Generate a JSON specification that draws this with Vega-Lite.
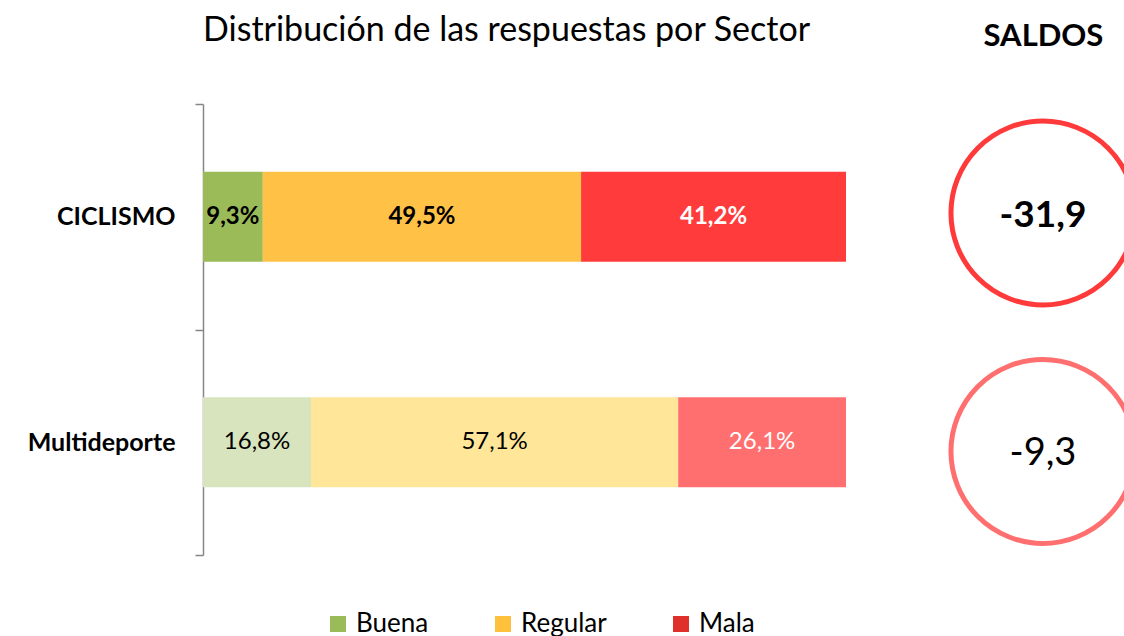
{
  "$schema": "https://vega.github.io/schema/vega-lite/v6.json",
  "autosize": {"type": "none"},
  "padding": {"left": 203, "top": 104, "right": 0, "bottom": 81},
  "width": 921,
  "height": 451,
  "background": "white",
  "title": {
    "text": "Distribución de las respuestas por Sector",
    "anchor": "start",
    "frame": "group",
    "baseline": "alphabetic",
    "offset": 0,
    "dy": 55,
    "fontSize": 34,
    "fontWeight": "normal",
    "color": "#000000"
  },
  "datasets": {
    "respuestas": [
      {"Sector": "CICLISMO", "Respuesta": "Buena", "orden": 1, "pct": 0.093},
      {"Sector": "CICLISMO", "Respuesta": "Regular", "orden": 2, "pct": 0.495},
      {"Sector": "CICLISMO", "Respuesta": "Mala", "orden": 3, "pct": 0.412},
      {"Sector": "Multideporte", "Respuesta": "Buena", "orden": 1, "pct": 0.168},
      {"Sector": "Multideporte", "Respuesta": "Regular", "orden": 2, "pct": 0.571},
      {"Sector": "Multideporte", "Respuesta": "Mala", "orden": 3, "pct": 0.261}
    ],
    "saldos": [
      {"Sector": "CICLISMO", "Saldo": -31.9},
      {"Sector": "Multideporte", "Saldo": -9.3}
    ]
  },
  "layer": [
    {
      "data": {"name": "respuestas"},
      "encoding": {
        "y": {
          "field": "Sector",
          "type": "nominal",
          "sort": ["CICLISMO", "Multideporte"],
          "scale": {"type": "band", "paddingInner": 0, "paddingOuter": 0},
          "axis": {
            "title": null,
            "tickBand": "extent",
            "domainColor": "#868686",
            "domainWidth": 1.5,
            "tickColor": "#868686",
            "tickWidth": 1.5,
            "tickSize": 8,
            "labelFontSize": 25,
            "labelFontWeight": "bold",
            "labelColor": "#000000",
            "labelPadding": 20
          }
        },
        "x": {
          "field": "pct",
          "type": "quantitative",
          "stack": "zero",
          "scale": {"domain": [0, 1], "range": [0, 643], "nice": false},
          "axis": null
        },
        "order": {"field": "orden", "type": "quantitative", "sort": "ascending"}
      },
      "layer": [
        {
          "transform": [{"filter": "datum.Sector === 'CICLISMO'"}],
          "mark": {"type": "bar", "height": {"band": 0.4}},
          "encoding": {
            "color": {
              "field": "Respuesta",
              "type": "nominal",
              "sort": ["Buena", "Regular", "Mala"],
              "scale": {"domain": ["Buena", "Regular", "Mala"], "range": ["#9BBB59", "#FFC247", "#FF3B3B"]},
              "legend": null
            }
          }
        },
        {
          "transform": [{"filter": "datum.Sector === 'Multideporte'"}],
          "mark": {"type": "bar", "height": {"band": 0.4}},
          "encoding": {
            "color": {
              "field": "Respuesta",
              "type": "nominal",
              "sort": ["Buena", "Regular", "Mala"],
              "scale": {"domain": ["Buena", "Regular", "Mala"], "range": ["#D7E4BD", "#FFE699", "#FF6F6F"]},
              "legend": null
            }
          }
        },
        {
          "transform": [{"filter": "false"}],
          "mark": {"type": "bar", "height": {"band": 0.4}},
          "encoding": {
            "color": {
              "field": "Respuesta",
              "type": "nominal",
              "sort": ["Buena", "Regular", "Mala"],
              "scale": {"domain": ["Buena", "Regular", "Mala"], "range": ["#9BBB59", "#FFC13B", "#E0302A"]},
              "legend": {
                "title": null,
                "orient": "none",
                "legendX": 122,
                "legendY": 507,
                "direction": "horizontal",
                "symbolType": "square",
                "symbolSize": 256,
                "symbolStrokeWidth": 0,
                "labelFontSize": 26,
                "labelColor": "#000000",
                "labelOffset": 5,
                "columnPadding": 61,
                "padding": 0
              }
            }
          }
        },
        {
          "transform": [{"filter": "datum.Sector === 'CICLISMO'"}],
          "mark": {"type": "text", "fontSize": 24, "fontWeight": "bold", "align": "center", "baseline": "middle"},
          "encoding": {
            "x": {"field": "pct", "type": "quantitative", "stack": "zero", "bandPosition": 0.5},
            "text": {"field": "pct", "type": "quantitative", "format": ".1%"},
            "color": {
              "field": "Respuesta",
              "type": "nominal",
              "sort": ["Buena", "Regular", "Mala"],
              "scale": {"domain": ["Buena", "Regular", "Mala"], "range": ["#000000", "#000000", "#FFFFFF"]},
              "legend": null
            }
          }
        },
        {
          "transform": [{"filter": "datum.Sector === 'Multideporte'"}],
          "mark": {"type": "text", "fontSize": 24, "fontWeight": "normal", "align": "center", "baseline": "middle"},
          "encoding": {
            "x": {"field": "pct", "type": "quantitative", "stack": "zero", "bandPosition": 0.5},
            "text": {"field": "pct", "type": "quantitative", "format": ".1%"},
            "color": {
              "field": "Respuesta",
              "type": "nominal",
              "sort": ["Buena", "Regular", "Mala"],
              "scale": {"domain": ["Buena", "Regular", "Mala"], "range": ["#000000", "#000000", "#FFFFFF"]},
              "legend": null
            }
          }
        }
      ],
      "resolve": {"scale": {"color": "independent"}}
    },
    {
      "data": {"name": "saldos"},
      "encoding": {
        "y": {
          "field": "Sector",
          "type": "nominal",
          "sort": ["CICLISMO", "Multideporte"],
          "scale": {"type": "point", "padding": 0, "range": [109, 347.5]},
          "axis": null
        },
        "x": {
          "datum": "SALDOS",
          "type": "nominal",
          "scale": {"type": "point", "padding": 0, "align": 0.912},
          "axis": {
            "orient": "top",
            "title": null,
            "domain": false,
            "ticks": false,
            "labelAngle": 0,
            "labelPadding": 52,
            "labelFontSize": 31,
            "labelFontWeight": "bold",
            "labelColor": "#000000"
          }
        }
      },
      "layer": [
        {
          "mark": {"type": "point", "shape": "circle", "filled": false, "size": 33856, "strokeWidth": 5, "opacity": 1},
          "encoding": {
            "color": {
              "field": "Sector",
              "type": "nominal",
              "scale": {"domain": ["CICLISMO", "Multideporte"], "range": ["#FF3A3A", "#FF6F6F"]},
              "legend": null
            }
          }
        },
        {
          "transform": [{"filter": "datum.Sector === 'CICLISMO'"}],
          "mark": {"type": "text", "fontSize": 37, "fontWeight": "bold", "color": "#000000", "align": "center", "baseline": "middle", "dy": 3},
          "encoding": {
            "text": {"field": "Saldo", "type": "quantitative", "format": ".1f"}
          }
        },
        {
          "transform": [{"filter": "datum.Sector === 'Multideporte'"}],
          "mark": {"type": "text", "fontSize": 38, "fontWeight": "normal", "color": "#000000", "align": "center", "baseline": "middle", "dy": 2},
          "encoding": {
            "text": {"field": "Saldo", "type": "quantitative", "format": ".1f"}
          }
        }
      ]
    }
  ],
  "resolve": {"scale": {"x": "independent", "y": "independent", "color": "independent"}},
  "config": {
    "view": {"stroke": null},
    "font": "Lato",
    "locale": {
      "number": {"decimal": ",", "thousands": ".", "grouping": [3], "currency": ["", " €"], "minus": "-", "percent": "%"}
    }
  }
}
